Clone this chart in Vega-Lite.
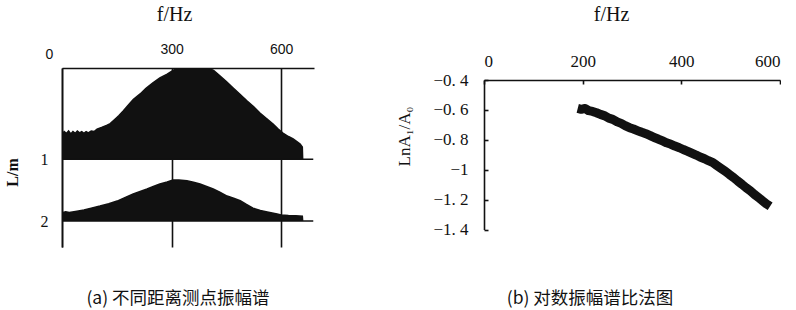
{
  "$schema": "https://vega.github.io/schema/vega-lite/v6.json",
  "background": "white",
  "padding": {"left": 4, "top": 4, "right": 0, "bottom": 0},
  "spacing": 81,
  "config": {
    "view": {"stroke": null},
    "axis": {"domainColor": "#111", "tickColor": "#111", "labelColor": "#111", "titleColor": "#111", "domainWidth": 1.6, "tickWidth": 1.6}
  },
  "hconcat": [
    {
      "width": 252,
      "height": 179,
      "title": {
        "text": "(a) 不同距离测点振幅谱",
        "orient": "bottom", "anchor": "middle", "frame": "group",
        "font": "Noto Sans CJK SC", "fontSize": 17.5, "fontWeight": "normal", "color": "#111",
        "offset": 43, "dx": -10
      },
      "data": {
        "values": [
          {"L": 1, "f": 0, "top": 0.6, "base": 1}, {"L": 1, "f": 6, "top": 0.55, "base": 1},
          {"L": 1, "f": 12, "top": 0.58, "base": 1}, {"L": 1, "f": 18, "top": 0.54, "base": 1},
          {"L": 1, "f": 24, "top": 0.59, "base": 1}, {"L": 1, "f": 30, "top": 0.55, "base": 1},
          {"L": 1, "f": 36, "top": 0.58, "base": 1}, {"L": 1, "f": 42, "top": 0.54, "base": 1},
          {"L": 1, "f": 48, "top": 0.57, "base": 1}, {"L": 1, "f": 54, "top": 0.55, "base": 1},
          {"L": 1, "f": 60, "top": 0.58, "base": 1}, {"L": 1, "f": 66, "top": 0.55, "base": 1},
          {"L": 1, "f": 72, "top": 0.57, "base": 1}, {"L": 1, "f": 80, "top": 0.54, "base": 1},
          {"L": 1, "f": 88, "top": 0.55, "base": 1}, {"L": 1, "f": 96, "top": 0.51, "base": 1},
          {"L": 1, "f": 110, "top": 0.48, "base": 1}, {"L": 1, "f": 122, "top": 0.45, "base": 1},
          {"L": 1, "f": 132, "top": 0.42, "base": 1}, {"L": 1, "f": 145, "top": 0.35, "base": 1},
          {"L": 1, "f": 156, "top": 0.29, "base": 1}, {"L": 1, "f": 167, "top": 0.22, "base": 1},
          {"L": 1, "f": 180, "top": 0.13, "base": 1}, {"L": 1, "f": 195, "top": 0.03, "base": 1},
          {"L": 1, "f": 214, "top": -0.06, "base": 1}, {"L": 1, "f": 230, "top": -0.15, "base": 1},
          {"L": 1, "f": 249, "top": -0.24, "base": 1}, {"L": 1, "f": 268, "top": -0.32, "base": 1},
          {"L": 1, "f": 288, "top": -0.38, "base": 1}, {"L": 1, "f": 304, "top": -0.44, "base": 1},
          {"L": 1, "f": 318, "top": -0.48, "base": 1}, {"L": 1, "f": 400, "top": -0.48, "base": 1},
          {"L": 1, "f": 415, "top": -0.44, "base": 1}, {"L": 1, "f": 433, "top": -0.35, "base": 1},
          {"L": 1, "f": 450, "top": -0.26, "base": 1}, {"L": 1, "f": 468, "top": -0.16, "base": 1},
          {"L": 1, "f": 488, "top": -0.05, "base": 1}, {"L": 1, "f": 507, "top": 0.055, "base": 1},
          {"L": 1, "f": 525, "top": 0.15, "base": 1}, {"L": 1, "f": 542, "top": 0.25, "base": 1},
          {"L": 1, "f": 560, "top": 0.34, "base": 1}, {"L": 1, "f": 578, "top": 0.43, "base": 1},
          {"L": 1, "f": 592, "top": 0.51, "base": 1}, {"L": 1, "f": 605, "top": 0.575, "base": 1},
          {"L": 1, "f": 620, "top": 0.63, "base": 1}, {"L": 1, "f": 633, "top": 0.67, "base": 1},
          {"L": 1, "f": 645, "top": 0.72, "base": 1}, {"L": 1, "f": 652, "top": 0.75, "base": 1},
          {"L": 1, "f": 658, "top": 0.8, "base": 1}, {"L": 1, "f": 659, "top": 1, "base": 1},
          {"L": 1, "f": 688, "top": 1, "base": 1},
          {"L": 2, "f": 0, "top": 1.865, "base": 2}, {"L": 2, "f": 10, "top": 1.85, "base": 2},
          {"L": 2, "f": 20, "top": 1.86, "base": 2}, {"L": 2, "f": 41, "top": 1.84, "base": 2},
          {"L": 2, "f": 60, "top": 1.82, "base": 2}, {"L": 2, "f": 80, "top": 1.79, "base": 2},
          {"L": 2, "f": 104, "top": 1.757, "base": 2}, {"L": 2, "f": 128, "top": 1.72, "base": 2},
          {"L": 2, "f": 151, "top": 1.676, "base": 2}, {"L": 2, "f": 172, "top": 1.62, "base": 2},
          {"L": 2, "f": 195, "top": 1.562, "base": 2}, {"L": 2, "f": 214, "top": 1.52, "base": 2},
          {"L": 2, "f": 233, "top": 1.481, "base": 2}, {"L": 2, "f": 250, "top": 1.44, "base": 2},
          {"L": 2, "f": 268, "top": 1.4, "base": 2}, {"L": 2, "f": 288, "top": 1.368, "base": 2},
          {"L": 2, "f": 304, "top": 1.335, "base": 2}, {"L": 2, "f": 320, "top": 1.335, "base": 2},
          {"L": 2, "f": 342, "top": 1.345, "base": 2}, {"L": 2, "f": 360, "top": 1.37, "base": 2},
          {"L": 2, "f": 378, "top": 1.4, "base": 2}, {"L": 2, "f": 396, "top": 1.44, "base": 2},
          {"L": 2, "f": 414, "top": 1.481, "base": 2}, {"L": 2, "f": 432, "top": 1.53, "base": 2},
          {"L": 2, "f": 452, "top": 1.595, "base": 2}, {"L": 2, "f": 470, "top": 1.63, "base": 2},
          {"L": 2, "f": 488, "top": 1.67, "base": 2}, {"L": 2, "f": 505, "top": 1.73, "base": 2},
          {"L": 2, "f": 523, "top": 1.79, "base": 2}, {"L": 2, "f": 543, "top": 1.83, "base": 2},
          {"L": 2, "f": 562, "top": 1.854, "base": 2}, {"L": 2, "f": 589, "top": 1.887, "base": 2},
          {"L": 2, "f": 600, "top": 1.9, "base": 2}, {"L": 2, "f": 620, "top": 1.91, "base": 2},
          {"L": 2, "f": 640, "top": 1.915, "base": 2}, {"L": 2, "f": 658, "top": 1.92, "base": 2},
          {"L": 2, "f": 659, "top": 2, "base": 2}, {"L": 2, "f": 688, "top": 2, "base": 2}
        ]
      },
      "mark": {"type": "area", "color": "#111", "stroke": "#111", "strokeWidth": 1.5, "clip": true, "interpolate": "linear"},
      "encoding": {
        "x": {
          "field": "f", "type": "quantitative",
          "scale": {"domain": [0, 690], "nice": false, "zero": false},
          "axis": {
            "orient": "top", "values": [0, 300, 600], "ticks": false,
            "grid": true, "gridColor": "#111", "gridWidth": 1.6, "gridOpacity": 1,
            "labelFont": "Liberation Sans", "labelFontSize": 14,
            "labelPadding": {"condition": {"test": "datum.value === 0", "value": 7}, "value": 12},
            "labelOffset": {"condition": {"test": "datum.value === 0", "value": -17}, "value": 0},
            "title": "f/Hz", "titleFont": "Liberation Serif", "titleFontSize": 20, "titleFontWeight": "normal",
            "titleX": 112, "titleY": -54, "titleAlign": "center", "titleBaseline": "middle"
          }
        },
        "y": {
          "field": "top", "type": "quantitative",
          "scale": {"domain": [-0.48, 2.42], "reverse": true, "nice": false, "zero": false},
          "axis": {
            "orient": "left", "values": [1, 2], "ticks": false, "grid": false,
            "labelFont": "Liberation Serif", "labelFontSize": 16, "labelPadding": 14,
            "title": "L/m", "titleFont": "Liberation Serif", "titleFontSize": 16, "titleFontWeight": "bold",
            "titleX": -50, "titleY": 104, "titleAlign": "center", "titleBaseline": "middle", "titleAngle": -90
          }
        },
        "y2": {"field": "base"},
        "detail": {"field": "L", "type": "nominal"}
      }
    },
    {
      "width": 296,
      "height": 162,
      "title": {
        "text": "(b) 对数振幅谱比法图",
        "orient": "bottom", "anchor": "middle", "frame": "group",
        "font": "Noto Sans CJK SC", "fontSize": 17.5, "fontWeight": "normal", "color": "#111",
        "offset": 52, "dx": -42
      },
      "data": {
        "values": [
          {"f": 190, "v": -0.59}, {"f": 197, "v": -0.596}, {"f": 205, "v": -0.59}, {"f": 212, "v": -0.605},
          {"f": 220, "v": -0.61}, {"f": 228, "v": -0.619}, {"f": 236, "v": -0.63}, {"f": 245, "v": -0.64},
          {"f": 253, "v": -0.655}, {"f": 261, "v": -0.663}, {"f": 270, "v": -0.68}, {"f": 278, "v": -0.69},
          {"f": 286, "v": -0.705}, {"f": 295, "v": -0.719}, {"f": 303, "v": -0.728}, {"f": 312, "v": -0.74},
          {"f": 320, "v": -0.75}, {"f": 328, "v": -0.759}, {"f": 337, "v": -0.772}, {"f": 345, "v": -0.785},
          {"f": 353, "v": -0.795}, {"f": 362, "v": -0.808}, {"f": 370, "v": -0.82}, {"f": 379, "v": -0.83},
          {"f": 387, "v": -0.842}, {"f": 396, "v": -0.853}, {"f": 404, "v": -0.865}, {"f": 413, "v": -0.877},
          {"f": 421, "v": -0.889}, {"f": 430, "v": -0.902}, {"f": 438, "v": -0.915}, {"f": 447, "v": -0.927},
          {"f": 455, "v": -0.94}, {"f": 464, "v": -0.953}, {"f": 472, "v": -0.972}, {"f": 480, "v": -0.99},
          {"f": 489, "v": -1.01}, {"f": 497, "v": -1.031}, {"f": 506, "v": -1.053}, {"f": 514, "v": -1.075},
          {"f": 523, "v": -1.098}, {"f": 531, "v": -1.12}, {"f": 540, "v": -1.142}, {"f": 548, "v": -1.165},
          {"f": 557, "v": -1.188}, {"f": 565, "v": -1.209}, {"f": 572, "v": -1.228}, {"f": 580, "v": -1.245}
        ]
      },
      "mark": {"type": "line", "color": "#111", "strokeWidth": 9, "strokeJoin": "round", "interpolate": "linear"},
      "encoding": {
        "x": {
          "field": "f", "type": "quantitative",
          "scale": {"domain": [0, 600], "nice": false, "zero": false},
          "axis": {
            "orient": "top", "offset": -12, "values": [0, 200, 400, 600], "tickSize": -4, "grid": false,
            "labelFont": "Liberation Serif", "labelFontSize": 17, "labelPadding": 14,
            "title": "f/Hz", "titleFont": "Liberation Serif", "titleFontSize": 20, "titleFontWeight": "normal",
            "titleX": 127, "titleY": -66, "titleAlign": "center", "titleBaseline": "middle"
          }
        },
        "y": {
          "field": "v", "type": "quantitative",
          "scale": {"domain": [-1.4, -0.4], "range": [161.5, 12], "nice": false, "zero": false},
          "axis": {
            "orient": "left", "values": [-0.4, -0.6, -0.8, -1, -1.2, -1.4], "tickSize": -4, "grid": false,
            "labelFont": "Liberation Serif", "labelFontSize": 17, "labelPadding": 20,
            "labelExpr": "replace(replace(format(datum.value, '.1~f'), '-', '−'), '.', '. ')",
            "title": "LnA₁/A₀", "titleFont": "Liberation Serif", "titleFontSize": 17, "titleFontWeight": "normal",
            "titleX": -80, "titleY": 68, "titleAlign": "center", "titleBaseline": "middle", "titleAngle": -90
          }
        }
      }
    }
  ]
}
